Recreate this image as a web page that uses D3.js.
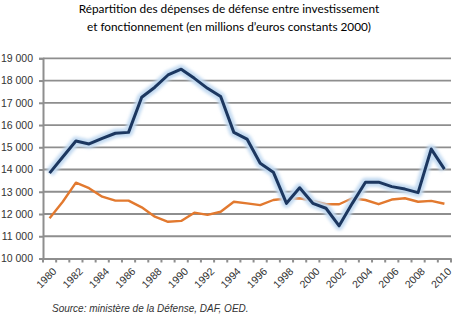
<!DOCTYPE html>
<html>
<head>
<meta charset="utf-8">
<script src="https://cdn.jsdelivr.net/npm/d3@7"></script>
<style>
  body { margin: 0; background: #fff; }
  svg { display: block; }
</style>
</head>
<body>
<div id="chart"></div>
<script>
// data ////////////////////////////////
const years = d3.range(1980, 2011)
const investissement = [
  13840, 14560, 15280, 15150, 15400, 15630, 15670, 17250, 17700, 18250,
  18510, 18100, 17650, 17280, 15670, 15370, 14280, 13880, 12480, 13180,
  12480, 12260, 11470, 12480, 13430, 13430, 13230, 13120, 12960, 14920,
  14020
]
const fonctionnement = [
  11810, 12550, 13410, 13160, 12780, 12600, 12600, 12300, 11880, 11650,
  11690, 12060, 11960, 12100, 12550, 12480, 12400, 12630, 12700, 12710,
  12590, 12440, 12440, 12710, 12630, 12440, 12650, 12710, 12550, 12590,
  12460
]
const yTicks = [10000, 11000, 12000, 13000, 14000, 15000, 16000, 17000, 18000, 19000]
const titleLines = [
  'Répartition des dépenses de défense entre investissement',
  'et fonctionnement (en millions d’euros constants 2000)'
]
const source = 'Source: ministère de la Défense, DAF, OED.'

const width = 460
const height = 318

const svg = d3
  .select('#chart')
  .append('svg')
  .attr('width', width)
  .attr('height', height)

/// scales ////////////////////////////////
const xScale = d3.scaleBand().domain(years).range([43, 451]).padding(0)
const yScale = d3.scaleLinear().domain([10000, 19000]).range([258.5, 58.3])
const cx = d => xScale(d) + xScale.bandwidth() / 2

const gridColor = '#8e8e8e'
const navy = '#1c3760'
const orange = '#e2792f'

// glow filter
const defs = svg.append('defs')
defs
  .append('filter')
  .attr('id', 'glow')
  .attr('x', '-10%')
  .attr('y', '-10%')
  .attr('width', '120%')
  .attr('height', '120%')
  .append('feGaussianBlur')
  .attr('stdDeviation', 1.8)

/// title ////////////////////////////////
svg
  .selectAll('.title')
  .data(titleLines)
  .enter()
  .append('text')
  .attr('class', 'title')
  .attr('x', 229)
  .attr('y', (d, i) => 13 + i * 18)
  .attr('text-anchor', 'middle')
  .attr('font-family', 'Lato, sans-serif')
  .attr('font-size', 11.8)
  .attr('fill', '#000')
  .text(d => d)

/// y axis & grid ////////////////////////////////
const yAxis = svg
  .append('g')
  .attr('class', 'y-axis')
  .attr('transform', 'translate(43,0)')
  .call(
    d3
      .axisLeft(yScale)
      .tickValues(yTicks)
      .tickSize(4)
      .tickPadding(6)
      .tickFormat(d => d3.format(',')(d).replace(',', ' '))
  )
yAxis.select('.domain').attr('stroke', gridColor).attr('stroke-width', 2)
yAxis.selectAll('.tick line').attr('stroke', gridColor).attr('stroke-width', 2)
yAxis
  .selectAll('.tick text')
  .attr('font-family', 'Liberation Sans, Arial, sans-serif')
  .attr('font-size', 10.5)
  .attr('fill', '#333')

svg
  .append('g')
  .attr('class', 'grid')
  .selectAll('line')
  .data(yTicks.filter(d => d > 10000))
  .enter()
  .append('line')
  .attr('x1', 43)
  .attr('x2', 451)
  .attr('y1', d => yScale(d))
  .attr('y2', d => yScale(d))
  .attr('stroke', gridColor)
  .attr('stroke-width', 1.8)

/// x axis ////////////////////////////////
const xAxis = svg
  .append('g')
  .attr('class', 'x-axis')
  .attr('transform', 'translate(0,' + yScale(10000) + ')')
  .call(d3.axisBottom(xScale).tickSize(0).tickFormat(d => (d % 2 === 0 ? d : '')))
xAxis.select('.domain').attr('stroke', gridColor).attr('stroke-width', 2)
xAxis
  .selectAll('.tick text')
  .attr('font-family', 'Liberation Sans, Arial, sans-serif')
  .attr('font-size', 10.5)
  .attr('fill', '#333')
  .attr('text-anchor', 'end')
  .attr('y', 0)
  .attr('dy', '0.35em')
  .attr('transform', 'translate(5,11) rotate(-45)')

// tick marks between categories
svg
  .append('g')
  .selectAll('line')
  .data(years.concat([2011]))
  .enter()
  .append('line')
  .attr('x1', d => (d === 2011 ? 451 : xScale(d)))
  .attr('x2', d => (d === 2011 ? 451 : xScale(d)))
  .attr('y1', yScale(10000))
  .attr('y2', yScale(10000) + 4)
  .attr('stroke', gridColor)
  .attr('stroke-width', 2)

/// lines ////////////////////////////////
const line = d3
  .line()
  .x((d, i) => cx(years[i]))
  .y(d => yScale(d))

svg
  .append('path')
  .datum(fonctionnement)
  .attr('d', line)
  .attr('fill', 'none')
  .attr('stroke', orange)
  .attr('stroke-width', 2.4)
  .attr('stroke-linejoin', 'round')

svg
  .append('path')
  .datum(investissement)
  .attr('d', line)
  .attr('fill', 'none')
  .attr('stroke', '#c3daf1')
  .attr('stroke-width', 9)
  .attr('stroke-linejoin', 'round')
  .attr('filter', 'url(#glow)')

svg
  .append('path')
  .datum(investissement)
  .attr('d', line)
  .attr('fill', 'none')
  .attr('stroke', navy)
  .attr('stroke-width', 3)
  .attr('stroke-linejoin', 'round')

/// source ////////////////////////////////
svg
  .append('text')
  .attr('x', 52)
  .attr('y', 312)
  .attr('font-family', 'Liberation Sans, Arial, sans-serif')
  .attr('font-style', 'italic')
  .attr('font-size', 10)
  .attr('fill', '#333')
  .text(source)
</script>
</body>
</html>
